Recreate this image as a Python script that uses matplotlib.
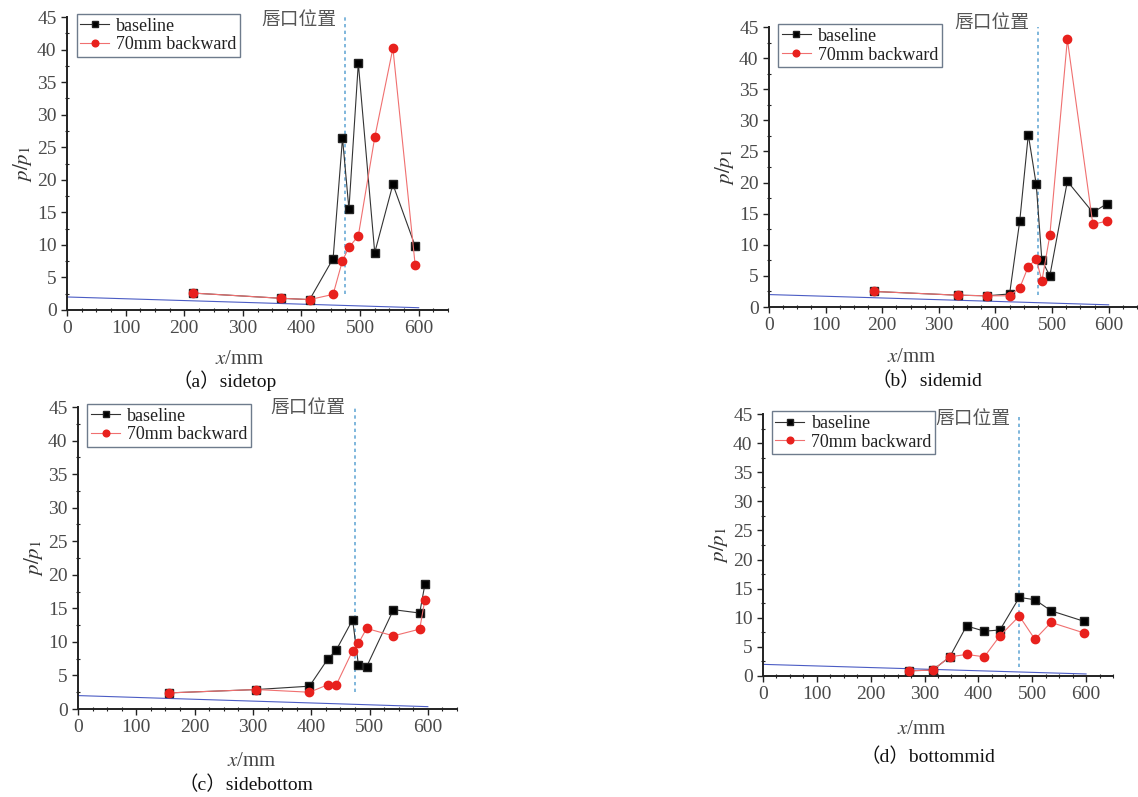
import matplotlib
matplotlib.use("Agg")
import matplotlib.pyplot as plt
from matplotlib.ticker import MultipleLocator

plt.rcParams['font.family'] = ['Liberation Serif', 'Noto Sans CJK SC']
plt.rcParams['mathtext.fontset'] = 'stix'

# data
a_x = [215, 365, 414, 454, 470, 481, 497, 525, 556, 594]
a_base = [2.6, 1.8, 1.6, 7.9, 26.4, 15.5, 37.9, 8.8, 19.3, 9.8]
a_back = [2.6, 1.8, 1.6, 2.4, 7.6, 9.6, 11.4, 26.5, 40.2, 6.9]

b_x = [185, 333, 385, 425, 443, 458, 472, 482, 496, 527, 572, 597]
b_base = [2.5, 1.9, 1.8, 2.1, 13.9, 27.7, 19.7, 7.5, 5.0, 20.2, 15.2, 16.6]
b_back = [2.5, 1.9, 1.8, 1.8, 3.1, 6.5, 7.7, 4.2, 11.5, 43.0, 13.3, 13.8]

c_x = [156, 306, 397, 428, 443, 471, 481, 495, 541, 586, 595]
c_base = [2.4, 2.9, 3.4, 7.4, 8.8, 13.3, 6.5, 6.3, 14.8, 14.3, 18.6]
c_back = [2.4, 2.9, 2.5, 3.6, 3.6, 8.7, 9.8, 12.0, 10.9, 11.9, 16.3]

d_x = [271, 315, 347, 378, 411, 440, 476, 505, 535, 596]
d_base = [0.9, 1.0, 3.3, 8.6, 7.7, 7.9, 13.5, 13.1, 11.2, 9.4]
d_back = [0.9, 1.0, 3.3, 3.7, 3.3, 6.9, 10.3, 6.3, 9.2, 7.4]

# faint blue guide line seen in every panel
guide_x = [0, 600]
guide_y = [2.0, 0.35]

lip_x = 475
captions = ["（a）sidetop", "（b）sidemid", "（c）sidebottom", "（d）bottommid"]

W, H = 1138, 797
# axes boxes in pixels: left, top, right, bottom
boxes = [(67, 17, 448, 310), (769, 27, 1137, 307),
         (78, 407, 457, 709), (763, 414, 1113, 676)]
caption_pos = [(225, 381), (927, 381), (246, 785), (928, 757)]
xlabel_pos = [(240, 350), (912, 348), (252, 752), (922, 720)]
lip_text_y = [44.6, 45.8, 45.0, 44.2]
vline_bottom = [2.5, 1.9, 2.6, 1.6]

panels = [(a_x, a_base, a_back), (b_x, b_base, b_back),
          (c_x, c_base, c_back), (d_x, d_base, d_back)]

fig = plt.figure(figsize=(W / 100, H / 100), dpi=100)

for i, (xs, base, back) in enumerate(panels):
    l, t, r, b = boxes[i]
    ax = fig.add_axes([l / W, 1 - b / H, (r - l) / W, (b - t) / H])

    ax.plot(guide_x, guide_y, color='#4b5cc4', lw=0.8, zorder=1)
    ax.plot([lip_x, lip_x], [vline_bottom[i], 45], color='#6aaad6', lw=1.2,
            ls=(0, (2, 2)), zorder=1)

    ax.plot(xs, base, color='#333333', lw=0.8, marker='s', ms=5.5,
            mfc='black', mec='#222222', label='baseline', zorder=3)
    ax.plot(xs, back, color='#f07070', lw=0.8, marker='o', ms=6,
            mfc='#e8211d', mec='#e8211d', label='70mm backward', zorder=4)

    ax.set_xlim(0, 650)
    ax.set_ylim(0, 45)
    ax.xaxis.set_major_locator(MultipleLocator(100))
    ax.xaxis.set_minor_locator(MultipleLocator(25))
    ax.yaxis.set_major_locator(MultipleLocator(5))
    ax.yaxis.set_minor_locator(MultipleLocator(2.5))
    ax.tick_params(which='major', direction='out', length=4, width=1,
                   labelsize=14, colors='#222222', labelcolor='#4a4a4a')
    ax.tick_params(which='minor', direction='inout', length=3, width=0.8,
                   colors='#222222')
    for s in ['top', 'right']:
        ax.spines[s].set_visible(False)
    for s in ['left', 'bottom']:
        ax.spines[s].set_linewidth(1.4)
        ax.spines[s].set_color('#222222')

    ax.set_ylabel(r'$p/p_{\rm 1}$', fontsize=15, color='#333333', labelpad=2)
    ax.set_xlabel(r'$x$/mm', fontsize=15, color='#444444')
    xl, yl = xlabel_pos[i]
    ax.xaxis.set_label_coords((xl - l) / (r - l), (b - yl) / (b - t))

    ax.text(lip_x - 16, lip_text_y[i], '唇口位置', ha='right', va='center',
            fontsize=13.5, color='#555555', family=['Noto Sans CJK SC'])

    leg = ax.legend(loc='upper left', bbox_to_anchor=(0.025, 1.01),
                    fontsize=13, frameon=True, fancybox=False,
                    handlelength=1.6, handletextpad=0.4, borderpad=0.2,
                    labelspacing=0.1, borderaxespad=0, markerscale=0.8)
    leg.get_frame().set_edgecolor('#4a5a70')
    leg.get_frame().set_linewidth(1.0)
    for txt in leg.get_texts():
        txt.set_color('#222222')

    cx, cy = caption_pos[i]
    fig.text(cx / W, 1 - cy / H, captions[i], ha='center', va='center',
             fontsize=14, color='#111111')

fig.savefig('out.png', dpi=100)
